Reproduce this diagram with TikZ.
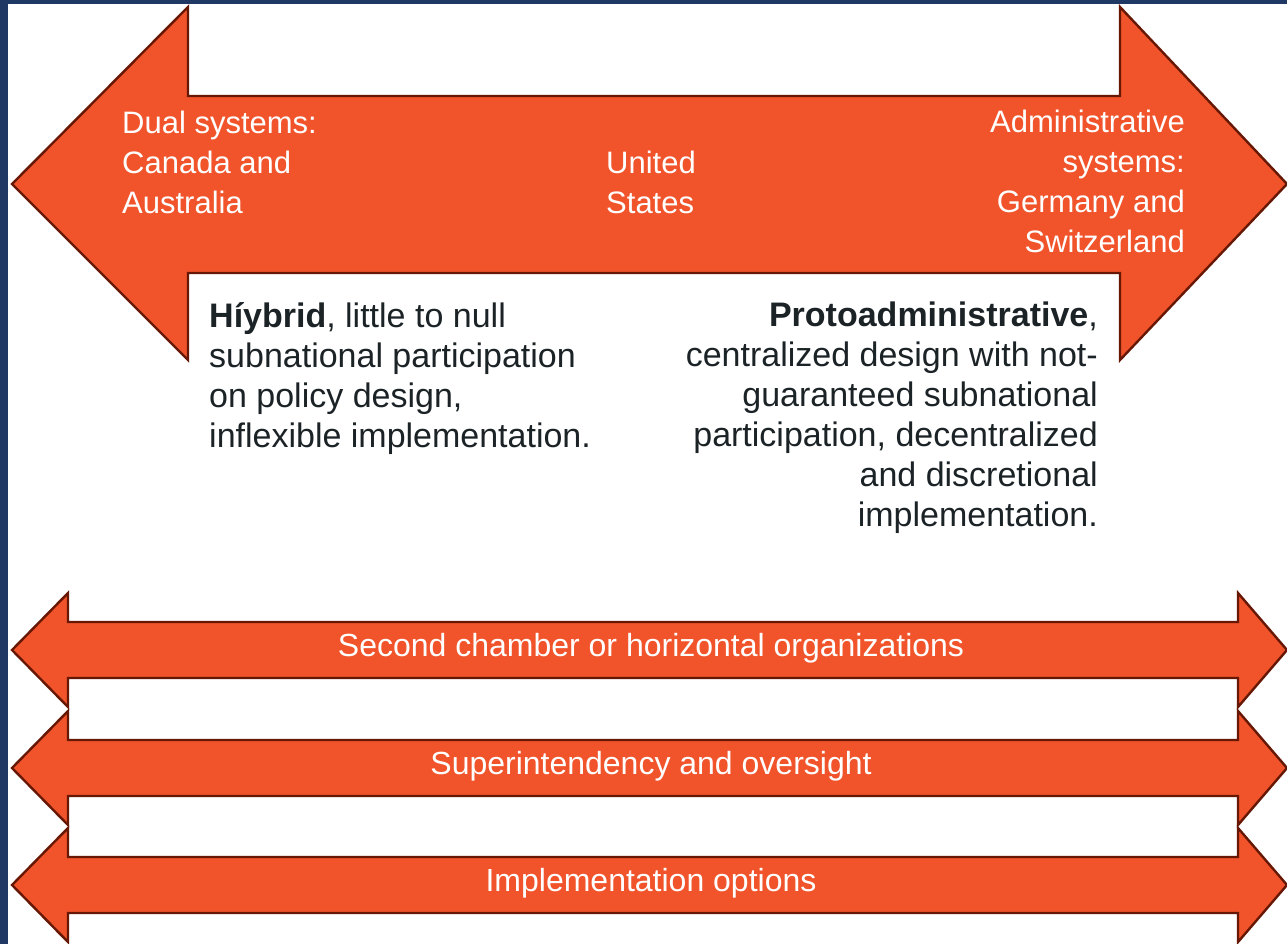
\documentclass[tikz,border=0pt]{standalone}
\usepackage{fontspec}
\setmainfont{Liberation Sans}
\usepackage{xcolor}
\usepackage{tikz}
\usetikzlibrary{positioning}
\definecolor{arrowfill}{HTML}{F1532A}
\definecolor{arrowline}{HTML}{661805}
\definecolor{slideblue}{HTML}{1F3864}
\definecolor{inktext}{HTML}{1C2326}

\begin{document}
\begin{tikzpicture}[
    x=1pt, y=-1pt,
    band/.style={fill=arrowfill, draw=arrowline, line width=2.4pt, line join=miter},
    whitetext/.style={text=white, inner sep=0pt, font=\fontsize{31}{40}\selectfont},
    blacktext/.style={text=inktext, inner sep=0pt, font=\fontsize{34}{40}\selectfont},
    bandlabel/.style={text=white, inner sep=0pt, font=\fontsize{32}{38}\selectfont, anchor=base}
]

    % 1. Slide background and frame
    \useasboundingbox (0,0) rectangle (1287,944);
    \fill[white] (0,0) rectangle (1287,944);
    \fill[slideblue] (0,0) rectangle (8,944);
    \fill[slideblue] (0,0) rectangle (1287,4);

    % 2. The main double arrow (dual <-> administrative)
    \draw[band] (12,184) -- (188,7) -- (188,96) -- (1120,96) -- (1120,7) -- (1287,184)
        -- (1120,360) -- (1120,273) -- (188,273) -- (188,360) -- cycle;

    % 3. Labels inside the main arrow
    \node[whitetext, anchor=north west, align=left] (dual) at (122,111) {Dual systems:\\Canada and\\Australia};
    \node[whitetext, anchor=north west, align=left] (usa) at (606,151) {United\\States};
    \node[whitetext, anchor=north east, align=right] (admin) at (1185,110) {Administrative\\systems:\\Germany and\\Switzerland};

    % 4. Descriptions below the main arrow
    \node[blacktext, anchor=north west, align=left] (hybrid) at (209,302)
        {\textbf{Híybrid}, little to null\\subnational participation\\on policy design,\\inflexible implementation.};
    \node[blacktext, anchor=north east, align=right] (proto) at (1098,302)
        {\textbf{Protoadministrative},\\centralized design with not-\\guaranteed subnational\\participation, decentralized\\and discretional\\implementation.};

    % 5. Three lower double arrows
    \foreach \c/\name/\txt in {650/chamber/Second chamber or horizontal organizations,
                              768/oversight/Superintendency and oversight,
                              885/options/Implementation options} {
        \draw[band] (12,\c) -- (68,\c-57) -- (68,\c-28) -- (1238,\c-28) -- (1238,\c-57) -- (1287,\c)
            -- (1238,\c+57) -- (1238,\c+28) -- (68,\c+28) -- (68,\c+57) -- cycle;
        \node[bandlabel] (\name) at (651,\c+6) {\txt};
    }

\end{tikzpicture}
\end{document}
